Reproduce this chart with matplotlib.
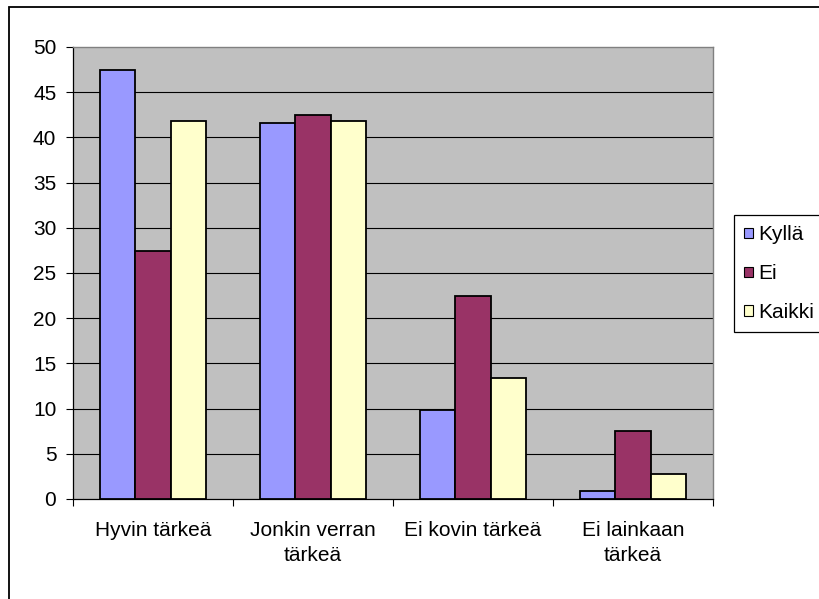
import matplotlib
matplotlib.use("Agg")
import matplotlib.pyplot as plt
from matplotlib.patches import Rectangle, Patch
import numpy as np

categories = ["Hyvin tärkeä", "Jonkin verran\ntärkeä", "Ei kovin tärkeä", "Ei lainkaan\ntärkeä"]
series_names = ["Kyllä", "Ei", "Kaikki"]
kylla = [47.5, 41.6, 9.9, 0.85]
ei = [27.4, 42.5, 22.5, 7.5]
kaikki = [41.8, 41.8, 13.4, 2.8]
yticks = [0, 5, 10, 15, 20, 25, 30, 35, 40, 45, 50]
colors = ["#9999FF", "#993366", "#FFFFCC"]

plt.rcParams['font.family'] = ['Liberation Sans', 'DejaVu Sans']
FS = 15

W, H = 819, 599
fig = plt.figure(figsize=(W / 100, H / 100), dpi=100)
ax = fig.add_axes([73 / W, 1 - 499 / H, 640 / W, 452 / H])

# chart-area border (left/top visible)
fig.patches.append(Rectangle((9 / W, -0.1), 1.2, 1.1 - 7 / H, transform=fig.transFigure,
                             fill=False, edgecolor="black", linewidth=1.3, zorder=0))

ax.set_facecolor("#C0C0C0")
x = np.arange(len(categories))
w = 1 / 4.5
for j, (vals, c, name) in enumerate(zip([kylla, ei, kaikki], colors, series_names)):
    ax.bar(x + (j - 1) * w, vals, width=w, color=c, edgecolor="black", linewidth=1.3,
           label=name, zorder=3)

ax.set_xlim(-0.5, len(categories) - 0.5)
ax.set_ylim(0, 50)
ax.set_yticks(yticks)
ax.set_yticklabels([str(v) for v in yticks], fontsize=FS)
for v in yticks[1:-1]:
    ax.axhline(v, color="black", linewidth=0.8, zorder=1)

ax.set_xticks(x)
ax.set_xticklabels(categories, fontsize=FS, linespacing=1.45)
ax.set_xticks(np.arange(len(categories) + 1) - 0.5, minor=True)
ax.tick_params(axis="x", which="major", length=0, pad=15.5)
ax.tick_params(axis="x", which="minor", length=5, width=0.8, direction="out")
ax.tick_params(axis="y", length=5, width=0.8, direction="out", pad=7)

for s in ["left", "bottom"]:
    ax.spines[s].set_color("black")
    ax.spines[s].set_linewidth(0.9)
for s in ["top", "right"]:
    ax.spines[s].set_color("#808080")
    ax.spines[s].set_linewidth(1.0)

handles = [Patch(facecolor=c, edgecolor="black", linewidth=0.8) for c in colors]
leg = fig.legend(handles, series_names, loc="upper left",
                 bbox_to_anchor=(734 / W, 1 - 215 / H), fontsize=FS,
                 frameon=True, fancybox=False, edgecolor="black", framealpha=1,
                 handlelength=0.4, handleheight=0.4, handletextpad=0.25,
                 labelspacing=0.95, borderpad=0.5, borderaxespad=0)
leg.get_frame().set_linewidth(0.9)

fig.savefig("out.png", dpi=100)
